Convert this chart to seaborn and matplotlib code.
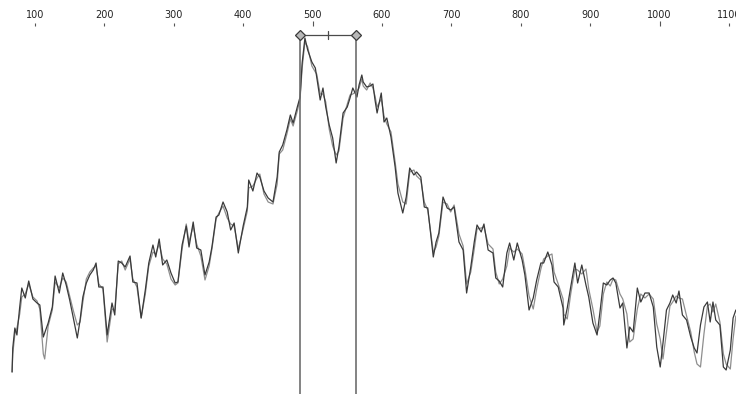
import numpy as np
import pandas as pd
import matplotlib
matplotlib.use("Agg")
import matplotlib.pyplot as plt
import seaborn as sns

# ---- data ----
position = [67, 68, 71, 74, 78, 81, 86, 91, 97, 103, 107, 112, 114, 119, 125, 129, 135, 140, 145, 150,
            155, 161, 165, 169, 174, 179, 184, 188, 192, 198, 204, 211, 215, 220, 225, 230, 237, 241, 247, 253,
            259, 264, 270, 274, 279, 284, 290, 296, 302, 306, 312, 318, 322, 328, 333, 339, 345, 351, 355, 361,
            365, 371, 377, 382, 387, 393, 400, 406, 408, 414, 420, 424, 430, 436, 443, 449, 452, 457, 463, 468,
            472, 478, 482, 485, 489, 493, 499, 504, 506, 511, 515, 519, 524, 529, 534, 538, 544, 550, 554, 558,
            564, 567, 571, 573, 578, 583, 587, 590, 593, 599, 603, 607, 613, 619, 623, 630, 635, 640, 646, 650,
            656, 661, 666, 674, 678, 682, 688, 694, 699, 704, 711, 717, 722, 728, 733, 737, 743, 747, 753, 760,
            764, 769, 774, 780, 784, 790, 795, 802, 806, 812, 818, 823, 829, 833, 839, 845, 848, 854, 861, 862,
            867, 872, 878, 882, 888, 894, 898, 904, 910, 914, 919, 924, 929, 933, 937, 943, 947, 953, 957, 962,
            968, 973, 979, 985, 991, 996, 1001, 1005, 1010, 1015, 1019, 1024, 1028, 1033, 1039, 1045, 1050, 1054, 1059, 1064,
            1069, 1073, 1077, 1081, 1087, 1092, 1096, 1102, 1106, 1110]

trace_dark = [22, 46, 66, 59, 87, 106, 96, 113, 95, 91, 89, 57, 61, 71, 87, 118, 101, 121, 109, 94,
              77, 56, 74, 97, 111, 119, 124, 131, 107, 107, 59, 91, 79, 133, 131, 127, 138, 112, 111, 76,
              104, 131, 149, 137, 155, 129, 134, 121, 111, 112, 149, 168, 147, 172, 146, 144, 119, 132, 147, 177,
              179, 192, 182, 164, 171, 141, 168, 187, 214, 203, 221, 217, 203, 196, 192, 217, 242, 249, 264, 279,
              271, 287, 297, 331, 356, 344, 332, 326, 317, 294, 306, 287, 269, 256, 231, 247, 281, 287, 296, 306,
              297, 309, 319, 312, 307, 308, 310, 294, 281, 301, 272, 276, 257, 227, 201, 181, 197, 226, 219, 222,
              217, 187, 186, 137, 152, 161, 197, 186, 184, 187, 152, 144, 101, 127, 152, 169, 162, 170, 144, 141,
              116, 113, 107, 141, 151, 134, 151, 134, 119, 84, 96, 114, 131, 131, 142, 129, 112, 107, 86, 69,
              86, 107, 131, 111, 129, 109, 97, 71, 59, 81, 111, 109, 114, 116, 111, 86, 91, 46, 67, 62,
              106, 92, 101, 101, 87, 47, 27, 51, 84, 91, 99, 91, 103, 79, 74, 57, 46, 41, 69, 87,
              92, 72, 92, 74, 69, 27, 24, 44, 76, 84]

trace_light = [22, 40, 60, 66, 80, 97, 100, 110, 97, 93, 85, 40, 35, 68, 84, 112, 106, 116, 112, 98,
               84, 69, 72, 92, 115, 122, 126, 128, 110, 105, 52, 85, 84, 130, 133, 124, 135, 115, 107, 76,
               100, 128, 142, 140, 150, 135, 130, 115, 109, 111, 145, 170, 152, 168, 150, 138, 114, 128, 145, 175,
               181, 188, 176, 170, 168, 145, 165, 183, 206, 208, 216, 220, 200, 192, 190, 210, 240, 244, 260, 275,
               268, 283, 295, 326, 352, 347, 328, 322, 320, 300, 300, 292, 265, 248, 239, 243, 276, 290, 299, 300,
               303, 306, 315, 308, 304, 311, 306, 298, 287, 295, 278, 270, 262, 232, 210, 192, 190, 222, 224, 218,
               214, 192, 184, 142, 147, 158, 192, 190, 182, 189, 160, 148, 110, 122, 145, 165, 166, 167, 150, 145,
               122, 110, 115, 128, 146, 142, 145, 140, 125, 98, 85, 105, 125, 135, 138, 140, 122, 110, 95, 80,
               75, 100, 125, 124, 120, 125, 105, 85, 62, 68, 100, 112, 108, 115, 114, 100, 95, 80, 52, 55,
               85, 100, 96, 100, 95, 70, 55, 35, 62, 88, 92, 98, 96, 95, 78, 62, 42, 30, 27, 60,
               88, 90, 82, 90, 72, 40, 30, 25, 55, 78]

tick_values = [100, 200, 300, 400, 500, 600, 700, 800, 900, 1000, 1100]
long_ticks = [500, 1000]
cursor_left = 482
cursor_right = 563
cursor_level = 359

df = pd.DataFrame({"position": position, "dark": trace_dark, "light": trace_light})

# ---- figure ----
sns.set_theme(style="white")
plt.rcParams["font.family"] = ["DejaVu Sans"]

fig = plt.figure(figsize=(7.36, 3.94), dpi=100)
ax = fig.add_axes([0, 0, 1, 368 / 394])

sns.lineplot(data=df, x="position", y="light", ax=ax, color="#8e8e8e", linewidth=0.9,
             sort=False, estimator=None)
sns.lineplot(data=df, x="position", y="dark", ax=ax, color="#3a3a3a", linewidth=0.9,
             sort=False, estimator=None)

# cursors
for xc in (cursor_left, cursor_right):
    ax.plot([xc, xc], [0, cursor_level], color="#6e6e6e", linewidth=1.2, zorder=3)
ax.plot([cursor_left, cursor_right], [cursor_level, cursor_level], color="#4a4a4a",
        linewidth=0.9, zorder=3)
mid = (cursor_left + cursor_right) / 2
ax.plot([mid, mid], [cursor_level - 4, cursor_level + 4], color="#4a4a4a", linewidth=0.9, zorder=3)
ax.plot([cursor_left, cursor_right], [cursor_level, cursor_level], linestyle="none",
        marker="D", markersize=5, markerfacecolor="#b8b8b8", markeredgecolor="#3a3a3a",
        markeredgewidth=0.9, zorder=4)

ax.set_xlim(49.6, 1110.2)
ax.set_ylim(0, 368)
ax.set_xlabel("")
ax.set_ylabel("")
ax.set_yticks([])
ax.set_xticks(tick_values)
ax.set_xticklabels([str(v) for v in tick_values])
ax.xaxis.tick_top()
ax.tick_params(axis="x", which="major", direction="out", length=2.2, width=0.8,
               color="#555555", labelsize=7, labelcolor="#222222", pad=2.2)
for t, v in zip(ax.xaxis.get_major_ticks(), tick_values):
    if v in long_ticks:
        t.tick2line.set_markersize(3.8)
for s in ax.spines.values():
    s.set_visible(False)
ax.set_facecolor("white")
fig.patch.set_facecolor("white")

fig.savefig("out.png", dpi=100, facecolor="white")
